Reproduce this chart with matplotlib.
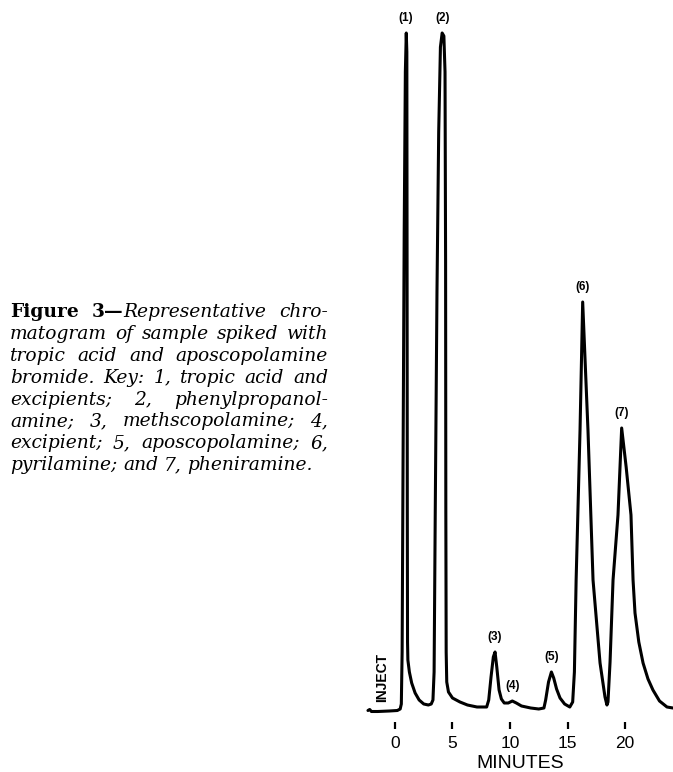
import matplotlib
matplotlib.use('Agg')
import matplotlib.pyplot as plt

# ---------------- data ----------------
TIME_MIN = [-2.35, -2.2, -2.05, -1.5, -0.5, 0.2, 0.45,
            0.55, 0.62, 0.7, 0.8, 0.9, 0.98, 1.03, 1.05, 1.07, 1.09, 1.12,
            1.25, 1.45, 1.75, 2.1, 2.5, 2.9, 3.15, 3.3,
            3.4, 3.5, 3.65, 3.8, 3.95, 4.1, 4.25, 4.35, 4.4, 4.42, 4.45, 4.5,
            4.65, 5.0, 5.65, 6.3, 7.13, 7.97,
            8.15, 8.35, 8.55, 8.7, 8.85, 9.05, 9.25, 9.5, 9.85, 10.2, 10.55,
            11.0, 11.8, 12.5, 12.95,
            13.1, 13.35, 13.6, 13.8, 14.05, 14.35, 14.75, 15.2, 15.45,
            15.6, 15.75, 16.09, 16.32, 16.78, 17.22, 17.83, 18.26, 18.43, 18.52,
            18.7, 18.96, 19.39, 19.71, 20.1, 20.52, 20.70, 20.87, 21.2, 21.57,
            22.0, 22.43, 23.0, 23.65, 24.17]
SIGNAL = [1.5, 2.5, 0.5, 0.5, 1.0, 1.5, 3,
          8, 60, 250, 480, 640, 679, 660, 450, 200, 70, 52,
          40, 29, 19, 12, 8, 7, 8, 12,
          40, 200, 420, 580, 665, 679, 676, 640, 450, 200, 60, 30,
          20, 14, 10, 7, 5, 5,
          12, 35, 55, 60, 45, 22, 13, 9, 9, 11, 9,
          6, 4, 3, 4,
          12, 30, 40, 34, 23, 14, 8, 5, 10,
          40, 132, 282, 410, 282, 132, 49, 15, 7, 10,
          50, 132, 197, 284, 245, 197, 132, 99, 70, 49,
          33, 22, 11, 5, 4]

PEAK_LABELS = ['(1)', '(2)', '(3)', '(4)', '(5)', '(6)', '(7)']
PEAK_TIMES = [0.96, 4.17, 8.7, 10.2, 13.65, 16.32, 19.71]
PEAK_HEIGHTS = [679, 679, 60, 11, 40, 410, 284]

X_TICKS = [0, 5, 10, 15, 20]
X_TICK_LABELS = ['0', '5', '10', '15', '20']
X_LABEL = 'MINUTES'
INJECT_LABEL = 'INJECT'

CAPTION_LINES = [
    [[('Figure', 'b')], [('3\u2014', 'b'), ('Representative', 'i')], [('chro-', 'i')]],
    'matogram of sample spiked with',
    'tropic acid and aposcopolamine',
    'bromide. Key: 1, tropic acid and',
    'excipients; 2, phenylpropanol-',
    'amine; 3, methscopolamine; 4,',
    'excipient; 5, aposcopolamine; 6,',
    'pyrilamine; and 7, pheniramine.',
]

# ---------------- figure ----------------
plt.rcParams['font.family'] = ['Liberation Sans', 'DejaVu Sans']
W, H = 673, 772
fig = plt.figure(figsize=(W / 100, H / 100), dpi=100)
fig.patch.set_facecolor('white')

ax = fig.add_axes([366.25 / W, 55 / H, 307.05 / W, 690 / H])
ax.plot(TIME_MIN, SIGNAL, color='black', lw=2.2,
        solid_joinstyle='round', solid_capstyle='round')
ax.set_xlim(-2.5, 24.2)
ax.set_ylim(-5, 685)
for s in ax.spines.values():
    s.set_visible(False)
ax.spines['bottom'].set_position(('outward', 3.6))
ax.set_yticks([])
ax.set_xticks(X_TICKS)
ax.set_xticklabels(X_TICK_LABELS)
ax.tick_params(axis='x', direction='out', length=5, width=1.6, pad=5,
               labelsize=12.5, colors='black')
ax.set_xlabel(X_LABEL, fontsize=14, labelpad=3)
ax.patch.set_alpha(0)

for lab, t, h in zip(PEAK_LABELS, PEAK_TIMES, PEAK_HEIGHTS):
    ax.annotate(lab, (t, h), xytext=(0, 10.8), textcoords='offset points',
                ha='center', va='center', fontsize=8.5, fontweight='bold')

ax.text(-1.13, 34, INJECT_LABEL, rotation=90, ha='center', va='center',
        fontsize=10, fontweight='bold')

# ---------------- justified caption ----------------
fig.canvas.draw()
renderer = fig.canvas.get_renderer()
CAP_FS = 13.4


def props(style):
    d = dict(fontsize=CAP_FS, family='DejaVu Serif')
    if style == 'b':
        d['fontweight'] = 'bold'
    else:
        d['fontstyle'] = 'italic'
    return d


def seg_width(text, style):
    t = fig.text(0, 0, text, **props(style))
    w = t.get_window_extent(renderer).width
    t.remove()
    return w


left_px, right_px = 10, 328
base0, step = 317, 21.9
space_w = seg_width('a a', 'i') - seg_width('aa', 'i')

for i, line in enumerate(CAPTION_LINES):
    if isinstance(line, str):
        words = [[(w, 'i')] for w in line.split(' ')]
    else:
        words = line
    widths = [sum(seg_width(tx, st) for tx, st in w) for w in words]
    last = (i == len(CAPTION_LINES) - 1)
    if last or len(words) == 1:
        gap = space_w
    else:
        gap = (right_px - left_px - sum(widths)) / (len(words) - 1)
    x = left_px
    yb = 1 - (base0 + i * step) / H
    for w, wd in zip(words, widths):
        xx = x
        for tx, st in w:
            fig.text(xx / W, yb, tx, ha='left', va='baseline', **props(st))
            xx += seg_width(tx, st)
        x += wd + gap

fig.savefig('out.png', dpi=100)
